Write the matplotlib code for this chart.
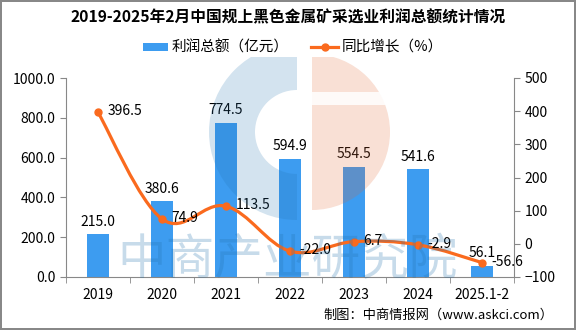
import matplotlib
matplotlib.use("Agg")
import matplotlib.pyplot as plt
from matplotlib.path import Path
from matplotlib.patches import PathPatch, Wedge, Rectangle

plt.rcParams['font.family'] = ['Noto Sans CJK SC', 'DejaVu Sans']

years = ['2019', '2020', '2021', '2022', '2023', '2024', '2025.1-2']
profit = [215.0, 380.6, 774.5, 594.9, 554.5, 541.6, 56.1]
growth = [396.5, 74.9, 113.5, -22.0, 6.7, -2.9, -56.6]

bar_color = '#3d9cf0'
line_color = '#fa6a1e'
W, H = 576, 330


def fx(px):
    return px / W


def fy(py):
    return 1 - py / H


def smooth_path(xs, ys, k=0.18):
    """Catmull-Rom style bezier through the points"""
    n = len(xs)
    verts = [(xs[0], ys[0])]
    codes = [Path.MOVETO]
    for i in range(n - 1):
        x0, y0 = xs[max(i - 1, 0)], ys[max(i - 1, 0)]
        x1, y1 = xs[i], ys[i]
        x2, y2 = xs[i + 1], ys[i + 1]
        x3, y3 = xs[min(i + 2, n - 1)], ys[min(i + 2, n - 1)]
        c1 = (x1 + (x2 - x0) * k, y1 + (y2 - y0) * k)
        c2 = (x2 - (x3 - x1) * k, y2 - (y3 - y1) * k)
        verts += [c1, c2, (x2, y2)]
        codes += [Path.CURVE4] * 3
    return Path(verts, codes)


fig = plt.figure(figsize=(W / 100, H / 100), dpi=100)
fig.patch.set_edgecolor('#888888')
fig.patch.set_linewidth(1.5)

ax = fig.add_axes([fx(66), fy(277), fx(448), 199 / H])
ax2 = ax.twinx()

x = list(range(len(years)))
ax.bar(x, profit, width=0.35, color=bar_color, zorder=2)
for xi, v in zip(x, profit):
    ax.text(xi, v + 28, '%.1f' % v, ha='center', va='bottom', fontsize=10)

ax2.add_patch(PathPatch(smooth_path(x, growth), facecolor='none',
                        edgecolor=line_color, lw=2.3, zorder=3))
ax2.plot(x, growth, 'o', color=line_color, ms=5, zorder=4)
for xi, v in zip(x, growth):
    ax2.text(xi + 0.15, v + 3, '%.1f' % v, ha='left', va='center', fontsize=10)

ax.set_xlim(-0.5, len(years) - 0.5)
ax.set_ylim(0, 1000)
ax2.set_ylim(-100, 500)
ax.set_yticks(range(0, 1001, 200))
ax.set_yticklabels(['%.1f' % t for t in range(0, 1001, 200)])
ax2.set_yticks(range(-100, 501, 100))
ax.set_xticks(x)
ax.set_xticklabels(years)
ax.set_xticks([i - 0.5 for i in range(len(years) + 1)], minor=True)
ax.tick_params(axis='x', which='major', length=0, pad=8, labelsize=10)
ax.tick_params(axis='x', which='minor', length=4, color='#888888')
ax.tick_params(axis='y', length=4, color='#888888', labelsize=10)
ax2.tick_params(axis='y', length=4, color='#888888', labelsize=10)

for a in (ax, ax2):
    a.spines['top'].set_visible(False)
    for s in ('left', 'right', 'bottom'):
        a.spines[s].set_color('#888888')
ax.spines['right'].set_visible(False)
ax2.spines['left'].set_visible(False)
ax2.spines['bottom'].set_visible(False)

# faint logo and name over the plot, laid out in pixel units
ov = fig.add_axes([0, 0, 1, 1], zorder=5)
ov.set_xlim(0, W)
ov.set_ylim(H, 0)
ov.axis('off')
ov.patch.set_alpha(0)
clip = Rectangle((0, 57), W, H - 57, transform=ov.transData)
logo = [
    Wedge((297, 132), 88, 90, 270, width=46, color='#2373af', alpha=0.2, lw=0),
    Wedge((312, 132), 78, -90, 90, color='#e1642d', alpha=0.2, lw=0),
    Rectangle((312, 92), 80, 13, color='white', alpha=0.85, lw=0),
]
for p in logo:
    ov.add_patch(p)
    p.set_clip_path(clip)
ov.text(288, 260, '中商产业研究院', ha='center', va='center', fontsize=35,
        fontweight='medium', color='#2373af', alpha=0.25)

fig.text(0.5, fy(17), '2019-2025年2月中国规上黑色金属矿采选业利润总额统计情况',
         ha='center', va='center', fontsize=11.3, fontweight='bold')

# legend
fig.patches.append(Rectangle((fx(143), fy(51)), fx(25), 8 / H,
                             transform=fig.transFigure, color=bar_color, lw=0))
fig.text(fx(172), fy(47), '利润总额（亿元）', va='center', fontsize=10.5)
fig.lines.append(plt.Line2D([fx(311), fx(324.5), fx(338)], [fy(47)] * 3,
                            transform=fig.transFigure, color=line_color, lw=2.3,
                            marker='o', markevery=[1], ms=5))
fig.text(fx(342), fy(47), '同比增长（%）', va='center', fontsize=10.5)

fig.text(fx(553), fy(315), '制图：中商情报网（www.askci.com）',
         ha='right', va='center', fontsize=9.5)

fig.savefig('out.png', dpi=100, edgecolor=fig.get_edgecolor())
